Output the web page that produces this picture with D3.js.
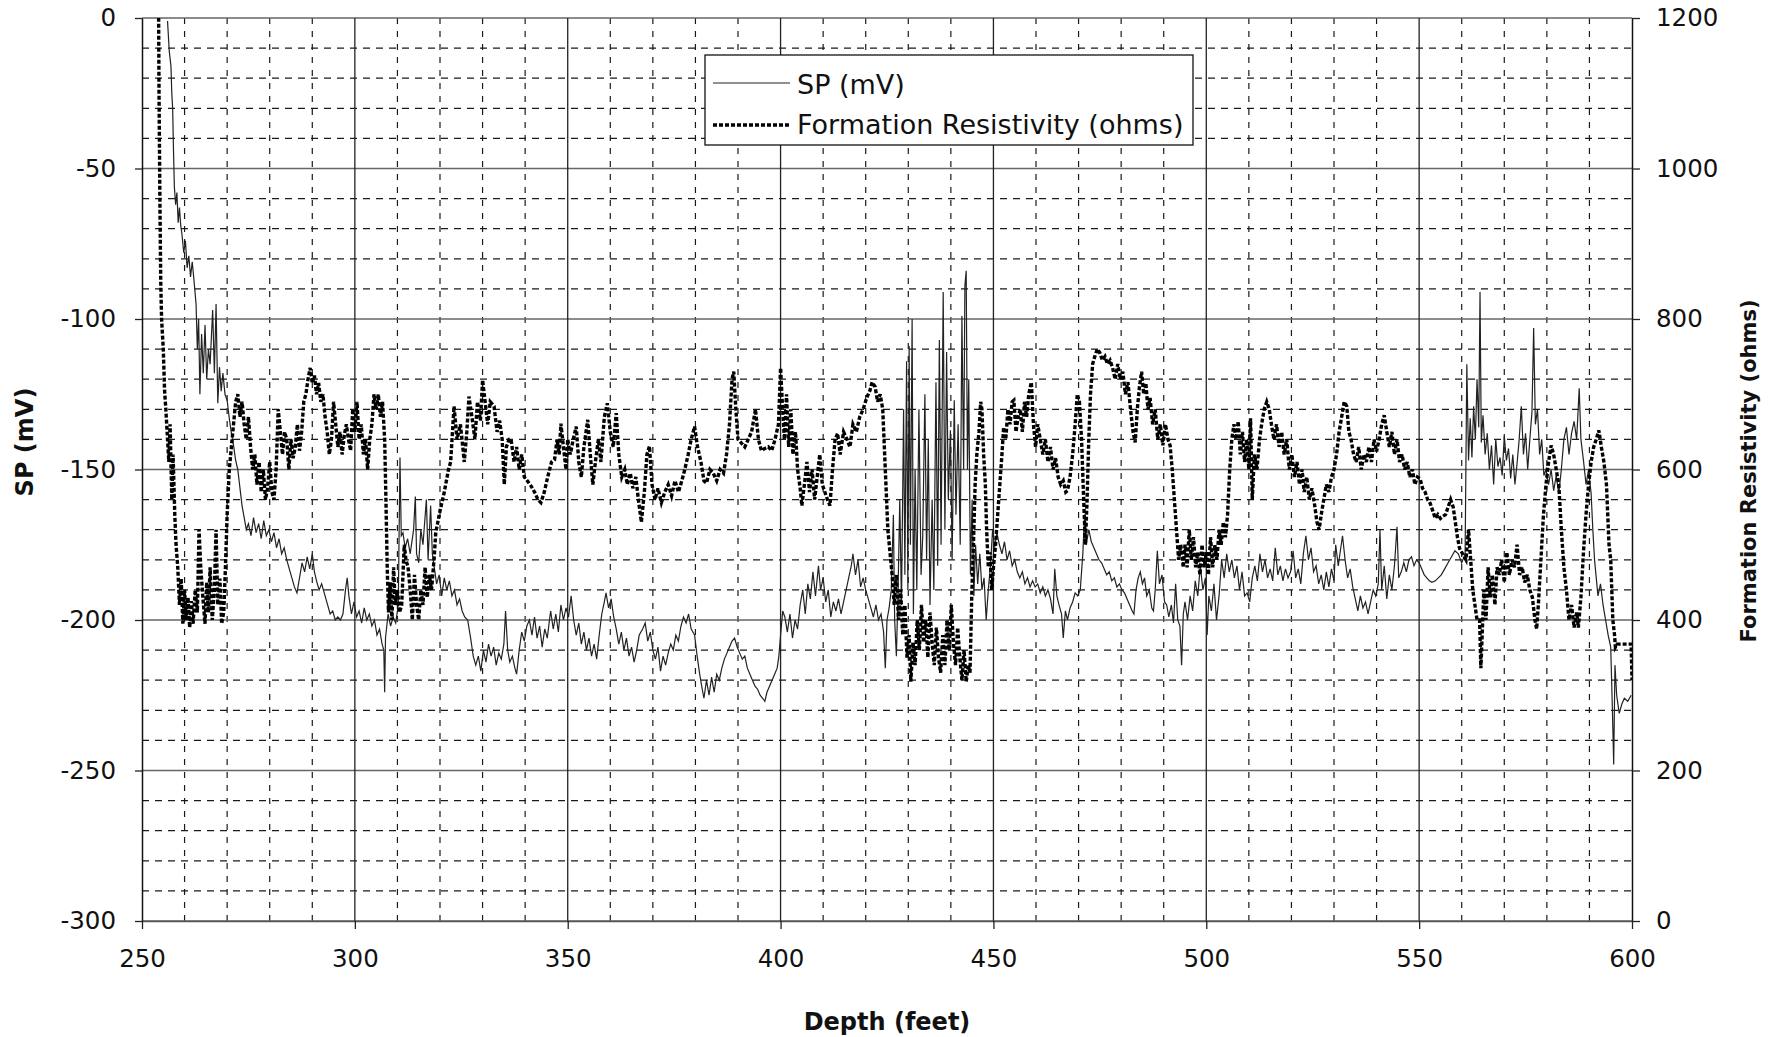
<!DOCTYPE html>
<html>
<head>
<meta charset="utf-8">
<script src="https://d3js.org/d3.v7.min.js"></script>
<style>
  body { margin: 0; background: #fff; }
  svg { font-family: "DejaVu Sans", sans-serif; }
  .minor { stroke: #1a1a1a; stroke-width: 1.2; }
  .major-h { stroke: #666; stroke-width: 1.3; }
  .major-v { stroke: #222; stroke-width: 1.3; }
  .tick text { font-size: 24.5px; fill: #111; }
  .tick line { stroke: #222; stroke-width: 1.3; }
  .sp-line { fill: none; stroke: #222; stroke-width: 1.2; }
  .res-line { fill: none; stroke: #000; stroke-width: 3.4; stroke-dasharray: 4 2; }
</style>
</head>
<body>
<svg width="1769" height="1037"></svg>
<script>
// axis ticks
var depthTicks = [250, 300, 350, 400, 450, 500, 550, 600];
var spTicks = [0, -50, -100, -150, -200, -250, -300];
var resTicks = [0, 200, 400, 600, 800, 1000, 1200];

// SP (mV), [depth, mV]
var spData = [
  [256.0,-1],[256.2,-6],[256.4,-11],[256.8,-16],[257.0,-25],[257.2,-30],[257.4,-44],[257.6,-56],
  [257.9,-62],[258.2,-58],[258.5,-68],[258.8,-63],[259.1,-69],[259.4,-72],[259.8,-78],[260.2,-74],
  [260.6,-83],[261.0,-79],[261.4,-86],[261.8,-81],[262.2,-87],[262.7,-95],[263.0,-110],[263.3,-100],
  [263.6,-125],[264.0,-105],[264.4,-118],[264.8,-102],[265.2,-120],[265.6,-110],[266.0,-115],[266.6,-97],
  [267.0,-118],[267.4,-95],[267.8,-128],[268.2,-116],[268.6,-124],[269.0,-118],[269.5,-125],[270.0,-127],
  [270.5,-133],[271.0,-138],[271.5,-142],[272.0,-147],[272.5,-150],[273.0,-156],[273.5,-162],[274.0,-166],
  [274.5,-170],[275.0,-168],[275.6,-172],[276.2,-166],[276.8,-171],[277.4,-168],[278.0,-173],[278.6,-167],
  [279.2,-172],[279.8,-170],[280.4,-174],[281.0,-171],[281.6,-176],[282.2,-173],[282.8,-178],[283.4,-176],
  [284.0,-180],[284.6,-183],[285.2,-186],[285.8,-189],[286.4,-191],[287.0,-186],[287.6,-181],[288.2,-184],
  [288.8,-179],[289.4,-183],[290.0,-178],[290.5,-184],[291.0,-187],[291.6,-190],[292.2,-188],[292.8,-191],
  [293.6,-195],[294.2,-198],[294.8,-197],[295.4,-200],[296.0,-199],[296.6,-200],[297.2,-198],[297.8,-190],
  [298.2,-186],[298.6,-192],[299.2,-198],[299.8,-194],[300.4,-199],[301.0,-197],[301.6,-201],[302.2,-196],
  [302.8,-200],[303.4,-198],[304.0,-202],[304.6,-200],[305.2,-205],[305.8,-203],[306.4,-208],[306.8,-210],
  [307.0,-224],[307.2,-206],[307.8,-198],[308.4,-202],[309.0,-199],[309.6,-201],[310.2,-195],[310.6,-146],
  [310.9,-172],[311.3,-171],[311.8,-176],[312.4,-173],[313.0,-178],[313.8,-170],[314.2,-159],[314.5,-178],
  [315.0,-181],[315.5,-170],[316.0,-175],[316.8,-160],[317.2,-180],[317.8,-162],[318.2,-178],[318.6,-182],
  [319.2,-188],[319.8,-185],[320.4,-192],[321.0,-186],[321.6,-190],[322.2,-187],[322.8,-192],[323.4,-190],
  [324.0,-195],[324.6,-193],[325.2,-197],[325.8,-199],[326.5,-200],[327.2,-206],[327.8,-212],[328.4,-215],
  [329.0,-212],[329.6,-217],[330.2,-210],[330.8,-214],[331.4,-208],[332.0,-212],[332.6,-209],[333.2,-215],
  [333.8,-211],[334.4,-213],[335.0,-208],[335.4,-197],[335.9,-210],[336.4,-214],[337.0,-212],[337.6,-216],
  [338.0,-218],[338.6,-210],[339.2,-204],[339.8,-207],[340.4,-202],[341.0,-200],[341.6,-205],[342.2,-199],
  [342.8,-206],[343.4,-202],[344.0,-209],[344.6,-203],[345.2,-206],[345.8,-199],[346.0,-197],[346.6,-203],
  [347.2,-198],[347.8,-204],[348.4,-195],[349.0,-200],[349.6,-196],[350.2,-199],[350.8,-192],[351.4,-200],
  [352.0,-205],[352.6,-201],[353.2,-208],[353.8,-204],[354.4,-210],[355.0,-206],[355.6,-212],[356.2,-208],
  [356.8,-213],[357.4,-205],[358.0,-198],[358.6,-194],[359.0,-191],[359.6,-196],[360.2,-193],[360.8,-199],
  [361.4,-203],[362.0,-208],[362.6,-204],[363.2,-210],[363.8,-206],[364.4,-212],[365.0,-209],[365.6,-214],
  [366.2,-210],[366.8,-205],[367.6,-203],[368.2,-201],[368.8,-207],[369.4,-204],[370.0,-210],[370.6,-213],
  [371.2,-209],[371.8,-217],[372.4,-212],[373.0,-215],[373.6,-211],[374.2,-208],[374.8,-210],[375.4,-205],
  [376.0,-207],[376.6,-202],[377.2,-199],[377.8,-201],[378.4,-198],[379.0,-203],[379.8,-205],[380.4,-212],
  [381.0,-218],[381.6,-223],[382.0,-226],[382.6,-220],[383.2,-225],[383.8,-219],[384.4,-224],[385.0,-218],
  [385.6,-220],[386.2,-216],[386.8,-213],[387.4,-211],[388.0,-209],[388.6,-207],[389.2,-206],[389.8,-209],
  [390.4,-211],[391.0,-213],[391.6,-212],[392.2,-216],[392.8,-218],[393.4,-220],[394.0,-222],[394.6,-223],
  [395.2,-225],[395.8,-226],[396.3,-227],[396.8,-224],[397.4,-222],[398.0,-220],[398.6,-218],[399.2,-216],
  [399.6,-212],[400.0,-205],[400.5,-197],[401.0,-199],[401.6,-204],[402.2,-198],[402.8,-206],[403.4,-200],
  [404.0,-203],[404.6,-195],[405.2,-190],[405.8,-198],[406.4,-188],[407.0,-193],[407.6,-184],[408.2,-192],
  [408.9,-182],[409.4,-190],[410.0,-186],[410.6,-194],[411.2,-190],[411.8,-199],[412.4,-194],[413.0,-197],
  [413.6,-193],[414.2,-198],[414.8,-194],[415.4,-190],[416.0,-186],[416.6,-182],[417.0,-178],[417.6,-185],
  [418.2,-180],[418.8,-189],[419.4,-186],[420.0,-190],[420.6,-193],[421.2,-196],[421.8,-199],[422.4,-195],
  [423.0,-200],[423.6,-198],[424.2,-204],[424.6,-216],[425.0,-200],[425.5,-196],[426.0,-190],[426.5,-165],
  [426.8,-200],[427.2,-212],[427.6,-190],[428.0,-160],[428.4,-195],[428.9,-130],[429.2,-185],[429.6,-114],
  [429.9,-190],[430.2,-109],[430.5,-175],[430.9,-100],[431.2,-198],[431.6,-150],[432.0,-190],[432.5,-130],
  [433.0,-185],[433.4,-172],[433.9,-125],[434.3,-180],[434.7,-140],[435.1,-195],[435.6,-160],[436.0,-190],
  [436.5,-121],[436.9,-182],[437.3,-107],[437.7,-175],[438.2,-91],[438.6,-170],[439.0,-111],[439.4,-160],
  [439.9,-137],[440.3,-180],[440.8,-127],[441.2,-165],[441.7,-135],[442.2,-175],[442.6,-99],[443.0,-150],
  [443.3,-89],[443.6,-84],[443.9,-150],[444.2,-120],[444.6,-185],[445.0,-160],[445.4,-192],[445.8,-175],
  [446.3,-188],[446.8,-178],[447.3,-190],[447.8,-186],[448.3,-200],[448.8,-190],[449.3,-182],[449.8,-170],
  [450.3,-176],[450.8,-171],[451.4,-175],[452.0,-178],[452.6,-174],[453.2,-180],[453.8,-177],[454.4,-182],
  [455.0,-180],[455.6,-184],[456.2,-186],[456.8,-184],[457.4,-188],[458.0,-186],[458.6,-189],[459.2,-187],
  [459.8,-189],[460.4,-188],[461.0,-191],[461.6,-189],[462.2,-192],[462.8,-190],[463.4,-193],[464.0,-198],
  [464.4,-183],[464.9,-192],[465.4,-195],[466.0,-198],[466.4,-206],[466.9,-197],[467.4,-200],[468.0,-196],
  [468.6,-194],[469.2,-191],[469.8,-192],[470.4,-190],[471.0,-178],[471.4,-165],[471.8,-175],[472.4,-170],
  [473.0,-174],[473.6,-176],[474.2,-178],[474.8,-180],[475.4,-181],[476.0,-183],[476.6,-185],[477.2,-184],
  [477.8,-187],[478.4,-186],[479.0,-189],[479.6,-188],[480.2,-190],[480.8,-191],[481.4,-193],[482.0,-195],
  [482.6,-197],[483.0,-198],[483.5,-190],[484.0,-186],[484.5,-184],[485.0,-188],[485.5,-186],[486.0,-192],
  [486.6,-190],[487.2,-196],[487.6,-197],[488.0,-190],[488.5,-177],[489.0,-188],[489.6,-185],[490.2,-194],
  [490.7,-195],[491.2,-199],[491.8,-195],[492.3,-201],[492.8,-188],[493.3,-200],[493.8,-202],[494.2,-215],
  [494.6,-198],[495.0,-194],[495.6,-200],[496.2,-192],[496.8,-197],[497.4,-187],[498.0,-192],[498.6,-182],
  [499.2,-190],[499.8,-186],[500.2,-205],[500.6,-192],[501.2,-197],[501.8,-188],[502.4,-200],[503.0,-192],
  [503.6,-180],[504.2,-186],[504.8,-178],[505.4,-184],[506.0,-180],[506.6,-186],[507.2,-182],[507.8,-190],
  [508.4,-184],[509.0,-192],[509.6,-191],[510.2,-194],[510.8,-186],[511.4,-182],[512.0,-187],[512.6,-178],
  [513.2,-184],[513.8,-180],[514.4,-186],[515.0,-183],[515.6,-187],[516.2,-176],[516.8,-185],[517.4,-182],
  [518.0,-187],[518.6,-183],[519.2,-186],[519.8,-184],[520.4,-177],[521.0,-186],[521.6,-183],[522.2,-188],
  [522.8,-178],[523.4,-172],[524.0,-180],[524.6,-176],[525.2,-184],[525.8,-182],[526.4,-188],[527.0,-185],
  [527.6,-190],[528.2,-184],[528.8,-189],[529.4,-183],[530.0,-187],[530.4,-175],[531.0,-182],[531.6,-176],
  [532.0,-172],[532.6,-180],[533.2,-186],[533.8,-183],[534.4,-189],[535.0,-193],[535.6,-197],[536.2,-192],
  [536.8,-196],[537.4,-194],[538.0,-198],[538.6,-194],[539.2,-190],[539.8,-192],[540.4,-188],[540.8,-170],
  [541.2,-190],[541.8,-182],[542.4,-193],[543.0,-185],[543.6,-190],[544.2,-182],[544.8,-169],[545.2,-186],
  [545.8,-184],[546.4,-181],[547.0,-184],[547.6,-180],[548.2,-179],[548.8,-182],[549.4,-180],[550.0,-181],
  [550.6,-183],[551.2,-185],[551.8,-186],[552.4,-187],[553.0,-187.5],[553.8,-187],[554.5,-186],[555.2,-185],
  [556.0,-183],[556.8,-181],[557.6,-179],[558.4,-177],[559.2,-178],[560.0,-181],[560.8,-178],[561.2,-115],
  [561.6,-147],[562.0,-133],[562.4,-146],[562.8,-129],[563.2,-140],[563.6,-120],[564.0,-136],[564.3,-91],
  [564.6,-141],[565.0,-132],[565.5,-145],[566.0,-138],[566.5,-150],[567.0,-142],[567.5,-155],[568.0,-140],
  [568.5,-149],[569.0,-146],[569.5,-152],[570.0,-139],[570.5,-147],[571.0,-143],[571.5,-153],[572.0,-145],
  [572.5,-155],[573.0,-148],[573.5,-140],[574.0,-129],[574.5,-145],[575.0,-138],[575.5,-150],[576.0,-140],
  [576.5,-131],[576.9,-103],[577.3,-135],[577.8,-130],[578.3,-145],[578.8,-140],[579.3,-152],[579.8,-150],
  [580.4,-155],[581.0,-150],[581.6,-157],[582.2,-152],[582.8,-158],[583.4,-150],[584.0,-140],[584.6,-136],
  [585.2,-145],[585.8,-138],[586.4,-134],[587.0,-140],[587.6,-123],[588.0,-140],[588.6,-147],[589.2,-155],
  [589.8,-150],[590.4,-158],[590.8,-170],[591.2,-180],[591.6,-186],[592.0,-192],[592.6,-188],[593.2,-195],
  [593.8,-200],[594.4,-205],[595.0,-209],[595.4,-230],[595.7,-248],[596.0,-215],[596.4,-225],[597.0,-231],
  [597.6,-228],[598.2,-226],[599.0,-227],[599.8,-225]
];

// Formation Resistivity (ohms), [depth, ohms]
var resData = [
  [253.8,1320],[254.0,1100],[254.2,960],[254.4,850],[254.6,800],[255.0,760],[255.3,705],[255.6,680],
  [256.0,640],[256.3,610],[256.6,660],[257.0,560],[257.3,620],[257.7,540],[258.0,500],[258.4,470],
  [258.8,420],[259.2,455],[259.6,395],[260.0,440],[260.4,400],[260.8,430],[261.2,390],[261.6,425],
  [262.0,395],[262.5,440],[263.0,410],[263.4,520],[263.8,470],[264.3,430],[264.8,395],[265.2,450],
  [265.6,410],[266.0,470],[266.5,400],[267.0,440],[267.4,520],[267.8,420],[268.3,455],[268.7,395],
  [269.2,410],[269.6,470],[270.0,540],[270.5,600],[271.0,630],[271.5,660],[272.0,690],[272.5,700],
  [273.0,670],[273.5,690],[274.0,660],[274.5,640],[275.0,670],[275.5,630],[276.0,600],[276.5,620],
  [277.0,580],[277.5,610],[278.0,570],[278.5,600],[279.0,560],[279.5,575],[280.0,610],[280.5,570],
  [281.0,560],[281.5,600],[282.0,680],[282.5,650],[283.0,620],[283.5,650],[284.0,640],[284.5,600],
  [285.0,640],[285.5,615],[286.0,630],[286.5,660],[287.0,625],[287.5,650],[288.0,690],[288.5,700],
  [289.0,720],[289.5,735],[290.0,715],[290.5,725],[291.0,700],[291.5,715],[292.0,690],[292.5,700],
  [293.0,670],[293.5,650],[294.0,620],[294.5,640],[295.0,690],[295.5,660],[296.0,630],[296.5,650],
  [297.0,620],[297.5,645],[298.0,660],[298.5,640],[299.0,625],[299.5,680],[300.0,650],[300.5,690],
  [301.0,640],[301.5,660],[302.0,620],[302.5,640],[303.0,600],[303.5,640],[304.0,660],[304.5,700],
  [305.0,680],[305.5,700],[306.0,670],[306.5,690],[307.0,640],[307.3,560],[307.6,470],[307.9,410],
  [308.3,450],[308.7,400],[309.1,470],[309.5,420],[310.0,440],[310.5,410],[311.0,420],[311.6,500],
  [312.0,480],[312.5,470],[313.0,440],[313.5,400],[314.0,460],[314.5,420],[315.0,400],[315.5,440],
  [316.0,420],[316.5,470],[317.0,430],[317.5,460],[318.0,440],[318.6,480],[319.0,516],[320.0,545],
  [321.0,570],[322.0,600],[322.5,610],[323.3,684],[324.0,640],[324.8,660],[325.7,610],[326.3,650],
  [326.8,697],[327.5,670],[328.2,640],[328.8,690],[329.5,665],[330.0,719],[330.6,690],[331.2,660],
  [331.8,690],[332.7,684],[333.4,650],[334.0,665],[334.6,640],[335.1,580],[335.6,630],[336.2,640],
  [336.7,640],[337.4,610],[338.0,630],[338.6,600],[339.2,620],[339.8,590],[340.5,585],[341.4,578],
  [342.2,570],[343.0,560],[343.7,556],[344.5,570],[345.3,590],[346.2,610],[346.9,613],[347.5,640],
  [348.0,620],[348.4,661],[349.0,630],[349.6,600],[350.0,640],[350.6,620],[351.3,640],[352.0,657],
  [352.6,610],[353.2,590],[353.8,630],[354.7,666],[355.3,620],[355.9,580],[356.5,610],[357.2,640],
  [357.8,610],[358.6,670],[359.3,688],[360.0,650],[360.7,630],[361.4,675],[362.0,620],[362.7,590],
  [363.4,600],[364.0,580],[364.7,595],[365.3,575],[366.0,590],[366.6,560],[367.3,530],[368.0,570],
  [368.6,620],[369.2,631],[369.8,580],[370.5,560],[371.2,575],[372.0,556],[372.8,570],[373.6,580],
  [374.4,565],[375.2,585],[376.0,570],[376.8,585],[377.5,600],[378.3,620],[379.0,640],[379.8,657],
  [380.5,630],[381.3,610],[382.0,585],[382.6,582],[383.4,600],[384.2,595],[385.0,585],[385.8,600],
  [386.6,595],[387.3,620],[388.0,660],[388.6,720],[389.0,730],[389.5,680],[390.0,640],[390.8,635],
  [391.6,630],[392.4,640],[393.2,650],[394.1,680],[394.8,640],[395.5,625],[396.3,628],[397.1,630],
  [397.9,625],[398.7,640],[399.5,660],[400.0,735],[400.4,690],[400.9,640],[401.4,700],[401.9,630],
  [402.4,680],[402.9,620],[403.5,650],[404.0,600],[404.6,575],[405.0,552],[405.6,580],[406.2,610],
  [406.8,570],[407.4,600],[408.0,560],[408.6,590],[409.2,620],[409.8,580],[410.4,570],[411.0,560],
  [411.6,552],[412.2,600],[412.8,640],[413.4,648],[414.0,620],[414.8,650],[415.6,640],[416.3,630],
  [417.0,660],[417.8,650],[418.6,670],[419.4,680],[420.2,695],[421.0,705],[421.5,716],[422.2,710],
  [422.8,690],[423.4,700],[424.0,680],[424.6,600],[425.2,520],[425.7,490],[426.2,460],[426.7,420],
  [427.2,460],[427.7,400],[428.2,440],[428.7,380],[429.2,420],[429.7,350],[430.2,380],[430.6,318],
  [431.1,370],[431.6,340],[432.1,400],[432.6,360],[433.1,420],[433.6,370],[434.1,400],[434.6,350],
  [435.1,410],[435.6,370],[436.1,340],[436.6,390],[437.1,350],[437.6,330],[438.1,380],[438.6,340],
  [439.1,400],[439.6,360],[440.1,420],[440.6,370],[441.1,340],[441.6,390],[442.1,350],[442.6,320],
  [443.1,360],[443.6,318],[444.1,340],[444.5,330],[444.9,430],[445.3,500],[445.7,580],[446.1,620],
  [446.6,650],[447.0,690],[447.3,680],[447.7,620],[448.1,580],[448.4,520],[448.8,470],[449.2,490],
  [449.6,440],[450.0,470],[450.5,500],[451.0,540],[451.5,580],[452.0,620],[452.4,656],[452.9,640],
  [453.4,680],[453.9,660],[454.4,690],[454.8,692],[455.3,650],[455.8,670],[456.3,680],[456.8,650],
  [457.3,690],[457.8,670],[458.3,700],[458.9,716],[459.4,660],[459.9,630],[460.4,660],[461.0,640],
  [461.6,620],[462.2,640],[462.8,610],[463.4,630],[464.0,600],[464.6,615],[465.2,590],[465.8,580],
  [466.4,585],[467.0,570],[467.4,572],[468.0,590],[468.6,620],[469.2,660],[469.7,700],[470.2,690],
  [470.7,640],[471.2,560],[471.6,500],[472.0,560],[472.4,640],[472.8,700],[473.3,740],[473.8,750],
  [474.4,760],[475.0,755],[475.6,745],[476.2,750],[476.8,740],[477.4,745],[478.0,735],[478.6,720],
  [479.2,740],[479.8,720],[480.4,730],[481.0,700],[481.6,716],[482.2,680],[482.8,650],[483.3,636],
  [483.8,680],[484.3,710],[484.8,730],[485.3,700],[485.8,715],[486.3,680],[486.8,695],[487.4,660],
  [488.0,680],[488.6,640],[489.2,660],[489.8,632],[490.4,660],[491.0,640],[491.5,632],[492.0,600],
  [492.5,560],[493.0,520],[493.5,480],[494.0,500],[494.6,470],[495.0,500],[495.5,470],[496.0,520],
  [496.5,480],[497.0,510],[497.5,470],[498.0,490],[498.5,460],[499.0,500],[499.5,470],[500.0,490],
  [500.5,460],[501.0,510],[501.5,470],[502.0,500],[502.5,480],[503.0,520],[503.5,500],[504.0,530],
  [504.5,510],[505.0,540],[505.5,600],[506.0,640],[506.5,660],[507.0,640],[507.5,664],[508.0,620],
  [508.5,650],[509.0,610],[509.5,640],[510.0,600],[510.4,668],[510.8,560],[511.3,620],[511.9,600],
  [512.5,640],[513.0,660],[513.6,680],[514.2,690],[514.8,680],[515.3,660],[515.9,640],[516.5,660],
  [517.1,630],[517.7,650],[518.3,620],[518.9,640],[519.5,600],[520.1,620],[520.7,590],[521.3,610],
  [521.9,580],[522.5,600],[523.0,570],[523.6,590],[524.2,560],[524.8,575],[525.4,555],[526.0,530],
  [526.5,520],[527.0,540],[527.6,560],[528.2,580],[528.8,570],[529.4,590],[530.0,600],[530.6,620],
  [531.2,650],[531.8,670],[532.4,690],[533.0,684],[533.5,650],[534.0,640],[534.6,620],[535.2,610],
  [535.8,630],[536.4,600],[537.0,620],[537.6,610],[538.2,630],[538.8,610],[539.4,640],[540.0,624],
  [540.6,640],[541.2,660],[541.8,672],[542.4,650],[543.0,630],[543.6,650],[544.2,620],[544.8,640],
  [545.4,610],[546.0,620],[546.6,600],[547.2,610],[547.8,590],[548.4,600],[549.0,580],[549.6,590],
  [550.2,588],[550.8,575],[551.4,570],[552.0,560],[552.6,555],[553.2,545],[553.8,535],[554.4,540],
  [555.0,535],[555.6,538],[556.2,540],[556.8,550],[557.4,560],[558.0,550],[558.5,530],[559.0,510],
  [559.5,495],[560.0,490],[560.5,485],[561.0,480],[561.6,520],[562.1,480],[562.6,440],[563.1,420],
  [563.6,400],[564.2,400],[564.5,336],[564.8,380],[565.2,440],[565.7,400],[566.2,470],[566.7,430],
  [567.2,460],[567.8,420],[568.3,470],[568.8,460],[569.4,480],[570.0,450],[570.6,490],[571.2,460],
  [571.8,480],[572.4,470],[573.0,500],[573.6,460],[574.2,470],[574.8,450],[575.4,460],[576.0,440],
  [576.6,430],[577.2,400],[577.6,388],[578.0,420],[578.6,480],[579.2,540],[579.8,580],[580.4,610],
  [581.0,632],[581.6,620],[582.2,600],[582.8,580],[583.4,520],[584.0,470],[584.6,440],[585.2,400],
  [585.8,420],[586.4,390],[587.0,410],[587.4,390],[588.0,430],[588.6,490],[589.2,540],[589.8,580],
  [590.4,610],[591.0,630],[591.6,640],[592.2,652],[592.8,630],[593.4,610],[594.0,580],[594.6,500],
  [595.0,480],[595.5,400],[595.9,380],[596.1,364],[596.5,368],[597.0,368],[598.0,368],[599.0,368],
  [599.8,368],[600.0,320]
];

var svg = d3.select("svg"),
    margin = { top: 18, right: 137, bottom: 116, left: 142 },
    width = +svg.attr("width") - margin.left - margin.right,
    height = +svg.attr("height") - margin.top - margin.bottom,
    g = svg.append("g").attr("transform", "translate(" + margin.left + "," + margin.top + ")");

var x = d3.scaleLinear().domain([250, 600]).range([0, width]);
var yL = d3.scaleLinear().domain([-300, 0]).range([height, 0]);
var yR = d3.scaleLinear().domain([0, 1200]).range([height, 0]);

// plain labels: hyphen minus, no thousands separator
var plain = function (d) { return String(d); };

// minor dashed grid
g.append("g").selectAll("line")
    .data(d3.range(-290, 0, 10).filter(function (d) { return d % 50 !== 0; }))
    .enter().append("line")
    .attr("class", "minor")
    .attr("x1", 0).attr("x2", width)
    .attr("y1", function (d) { return yL(d); }).attr("y2", function (d) { return yL(d); })
    .attr("stroke-dasharray", "7 6");

g.append("g").selectAll("line")
    .data(d3.range(260, 600, 10).filter(function (d) { return d % 50 !== 0; }))
    .enter().append("line")
    .attr("class", "minor")
    .attr("y1", 0).attr("y2", height)
    .attr("x1", function (d) { return x(d); }).attr("x2", function (d) { return x(d); })
    .attr("stroke-dasharray", "6 7");

// major solid grid
g.append("g").selectAll("line")
    .data(spTicks)
    .enter().append("line")
    .attr("class", "major-h")
    .attr("x1", 0).attr("x2", width)
    .attr("y1", function (d) { return yL(d); }).attr("y2", function (d) { return yL(d); });

g.append("g").selectAll("line")
    .data(depthTicks.slice(1, -1))
    .enter().append("line")
    .attr("class", "major-v")
    .attr("y1", 0).attr("y2", height)
    .attr("x1", function (d) { return x(d); }).attr("x2", function (d) { return x(d); });

// axes
var axL = g.append("g")
    .call(d3.axisLeft(yL).tickValues(spTicks).tickFormat(plain)
        .tickSize(7).tickSizeOuter(0).tickPadding(19));
var axR = g.append("g")
    .attr("transform", "translate(" + width + ",0)")
    .call(d3.axisRight(yR).tickValues(resTicks).tickFormat(plain)
        .tickSize(8).tickSizeOuter(0).tickPadding(16));
var axB = g.append("g")
    .attr("transform", "translate(0," + height + ")")
    .call(d3.axisBottom(x).tickValues(depthTicks).tickFormat(plain)
        .tickSize(8).tickSizeOuter(0).tickPadding(21));

[axL, axR, axB].forEach(function (a) {
    a.select(".domain").attr("stroke", "#111").attr("stroke-width", 1.5);
    a.selectAll("text").attr("font-family", "DejaVu Sans").attr("fill", "#111");
});
axB.select(".domain").attr("stroke", "#555");

// data lines
g.append("defs").append("clipPath")
    .attr("id", "clip")
    .append("rect")
    .attr("width", width)
    .attr("height", height);

var spLine = d3.line()
    .x(function (d) { return x(d[0]); })
    .y(function (d) { return yL(d[1]); });

var resLine = d3.line()
    .x(function (d) { return x(d[0]); })
    .y(function (d) { return yR(d[1]); });

var lines = g.append("g").attr("clip-path", "url(#clip)");
lines.append("path").datum(spData).attr("class", "sp-line").attr("d", spLine);
lines.append("path").datum(resData).attr("class", "res-line").attr("d", resLine);

// axis titles
svg.append("text")
    .attr("transform", "translate(33,442) rotate(-90)")
    .attr("text-anchor", "middle")
    .attr("font-size", 24).attr("font-weight", "bold").attr("fill", "#111")
    .text("SP (mV)");

svg.append("text")
    .attr("x", margin.left + width / 2).attr("y", 1030)
    .attr("text-anchor", "middle")
    .attr("font-size", 24).attr("font-weight", "bold").attr("fill", "#111")
    .text("Depth (feet)");

svg.append("text")
    .attr("transform", "translate(1756,471) rotate(-90)")
    .attr("text-anchor", "middle")
    .attr("font-size", 21).attr("font-weight", "bold").attr("fill", "#111")
    .text("Formation Resistivity (ohms)");

// legend
var lg = svg.append("g").attr("transform", "translate(705,55)");
lg.append("rect")
    .attr("width", 488).attr("height", 90)
    .attr("fill", "#fff").attr("stroke", "#111").attr("stroke-width", 1.3);
lg.append("line")
    .attr("x1", 8).attr("x2", 85).attr("y1", 28).attr("y2", 28)
    .attr("class", "sp-line").attr("stroke", "#888");
lg.append("text")
    .attr("x", 92).attr("y", 39)
    .attr("font-size", 27).attr("fill", "#111")
    .text("SP (mV)");
lg.append("line")
    .attr("x1", 8).attr("x2", 85).attr("y1", 70).attr("y2", 70)
    .attr("class", "res-line");
lg.append("text")
    .attr("x", 92).attr("y", 79)
    .attr("font-size", 27).attr("fill", "#111")
    .text("Formation Resistivity (ohms)");
</script>
</body>
</html>
